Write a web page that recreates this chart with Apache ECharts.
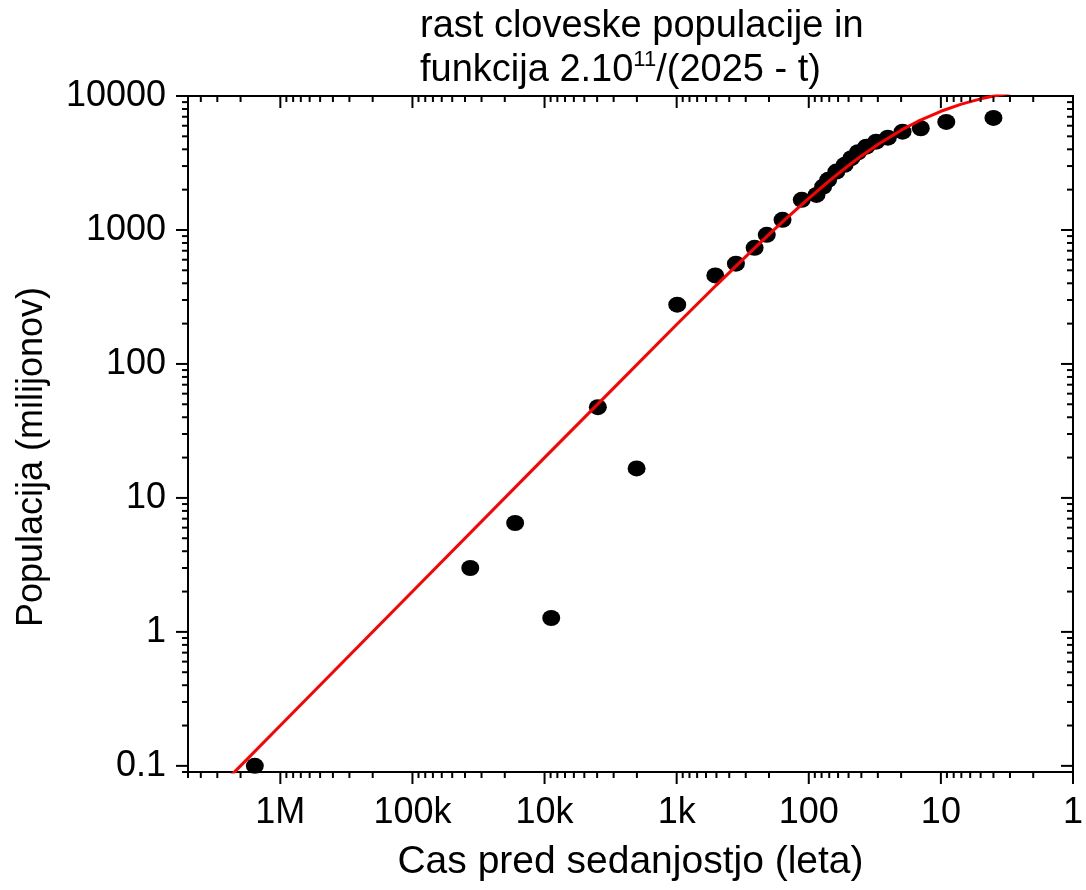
<!DOCTYPE html>
<html>
<head>
<meta charset="utf-8">
<title>rast cloveske populacije</title>
<script src="https://cdn.jsdelivr.net/npm/echarts@6/dist/echarts.min.js"></script>
<style>
  html, body { margin: 0; padding: 0; background: #fff; }
  #chart { width: 1086px; height: 890px; }
</style>
</head>
<body>
<div id="chart"></div>
<script>
// measured points: years before present, population in millions
const pointYears = [1.56e6, 36500, 16700, 8900, 3950, 2010, 990, 510, 356, 257, 208, 158,
  113, 87.4, 77.8, 71.3, 61.8, 53.5, 47.6, 42.4, 36.7, 30.9, 25.2, 19.5, 14.2, 9.1, 4.0];
const pointPopulation = [0.1, 3.0, 6.5, 1.27, 47.6, 16.6, 277, 458, 560, 736, 920, 1191,
  1679, 1828, 2109, 2366, 2730, 3063, 3433, 3803, 4189, 4562, 4886, 5420, 5743, 6400, 6860];

// red curve
const fitYears = [2.5e6, 2.2e6, 1e6, 1e5, 1e4, 3000, 1000, 500, 300, 200, 150, 100,
  70, 50, 40, 30, 20, 15, 10, 7, 5, 3.9, 3];
const fitPopulation = [0.08, 0.091, 0.2, 2.0, 20, 66, 197, 388, 633, 926, 1205, 1724,
  2326, 3030, 3571, 4348, 5556, 6452, 7692, 8696, 9524, 10050, 10530];

const xTickValues = [1e6, 1e5, 1e4, 1e3, 100, 10, 1];
const xTickLabels = ["1M", "100k", "10k", "1k", "100", "10", "1"];
const yTickValues = [0.1, 1, 10, 100, 1000, 10000];
const yTickLabels = ["0.1", "1", "10", "100", "1000", "10000"];

const xMin = 1, xMax = 5e6;
const yMin = 0.09, yMax = 10000;

const FONT = "'Liberation Sans', Arial, sans-serif";

const pick = (values, labels) => (v) => {
  const i = values.findIndex((t) => Math.abs(v - t) / t < 1e-6);
  return i >= 0 ? labels[i] : "";
};

// log ticks 1..9 per decade, inside the axis range
const logTicks = (lo, hi) => {
  const out = [];
  for (let d = Math.floor(Math.log10(lo)); d <= Math.ceil(Math.log10(hi)); d++) {
    for (let m = 1; m <= 9; m++) {
      const v = m * Math.pow(10, d);
      if (v >= lo * 0.9999 && v <= hi * 1.0001) out.push([v, m === 1 ? 1 : 0]);
    }
  }
  return out;
};

const tickData = [];
logTicks(xMin, xMax).forEach(([v, major]) => {
  tickData.push([v, yMax, 0, major]); // bottom
  tickData.push([v, yMax, 1, major]); // top
});
logTicks(yMin, yMax).forEach(([v, major]) => {
  tickData.push([xMin, v, 2, major]); // left
  tickData.push([xMin, v, 3, major]); // right
});

const chart = echarts.init(document.getElementById("chart"));

chart.setOption({
  animation: false,
  backgroundColor: "#fff",
  title: {
    left: 415,
    top: 0,
    text: "rast cloveske populacije in\nfunkcija 2.10{sup|11}/(2025 - t)",
    textStyle: {
      fontFamily: FONT,
      fontSize: 38,
      fontWeight: "normal",
      color: "#000",
      lineHeight: 44,
      rich: {
        sup: { fontFamily: FONT, fontSize: 22, color: "#000", verticalAlign: "top", lineHeight: 2 },
      },
    },
  },
  grid: {
    left: 188,
    right: 8,
    top: 96,
    bottom: 118,
    show: true,
    borderColor: "#000",
    borderWidth: 2,
    backgroundColor: "transparent",
  },
  xAxis: {
    type: "log",
    logBase: 10,
    inverse: true,
    min: xMin,
    max: xMax,
    name: "Cas pred sedanjostjo (leta)",
    nameLocation: "middle",
    nameGap: 71,
    nameTextStyle: { fontFamily: FONT, fontSize: 39, color: "#000" },
    axisLine: { lineStyle: { color: "#000", width: 2 } },
    axisTick: { show: false },
    splitLine: { show: false },
    axisLabel: {
      margin: 23,
      fontFamily: FONT,
      fontSize: 36,
      color: "#000",
      formatter: pick(xTickValues, xTickLabels),
    },
  },
  yAxis: {
    type: "log",
    logBase: 10,
    min: yMin,
    max: yMax,
    name: "Populacija (milijonov)",
    nameLocation: "middle",
    nameGap: 138,
    nameTextStyle: { fontFamily: FONT, fontSize: 36, color: "#000", padding: [0, 46, 0, 0] },
    axisLine: { lineStyle: { color: "#000", width: 2 } },
    axisTick: { show: false },
    splitLine: { show: false },
    axisLabel: {
      margin: 22,
      fontFamily: FONT,
      fontSize: 36,
      color: "#000",
      formatter: pick(yTickValues, yTickLabels),
    },
  },
  series: [
    {
      type: "scatter",
      data: pointYears.map((t, i) => [t, pointPopulation[i]]),
      symbol: "circle",
      symbolSize: [18, 16],
      itemStyle: { color: "#000", opacity: 1 },
      z: 2,
    },
    {
      type: "line",
      data: fitYears.map((t, i) => [t, fitPopulation[i]]),
      showSymbol: false,
      smooth: false,
      clip: true,
      lineStyle: { color: "#ff0000", width: 3 },
      z: 3,
    },
    {
      type: "custom",
      data: tickData,
      encode: { x: 0, y: 1 },
      silent: true,
      z: 4,
      renderItem: (params, api) => {
        const cs = params.coordSys;
        const side = api.value(2);
        const len = api.value(3) ? 12 : 6;
        let shape;
        if (side < 2) {
          const px = api.coord([api.value(0), yMax])[0];
          const y0 = side === 0 ? cs.y + cs.height : cs.y;
          shape = { x1: px, y1: y0, x2: px, y2: y0 + len };
        } else {
          const py = api.coord([xMin, api.value(1)])[1];
          const x0 = side === 2 ? cs.x : cs.x + cs.width;
          shape = { x1: x0, y1: py, x2: x0 - len, y2: py };
        }
        return { type: "line", shape, style: { stroke: "#000", lineWidth: 2 } };
      },
    },
  ],
});
</script>
</body>
</html>
